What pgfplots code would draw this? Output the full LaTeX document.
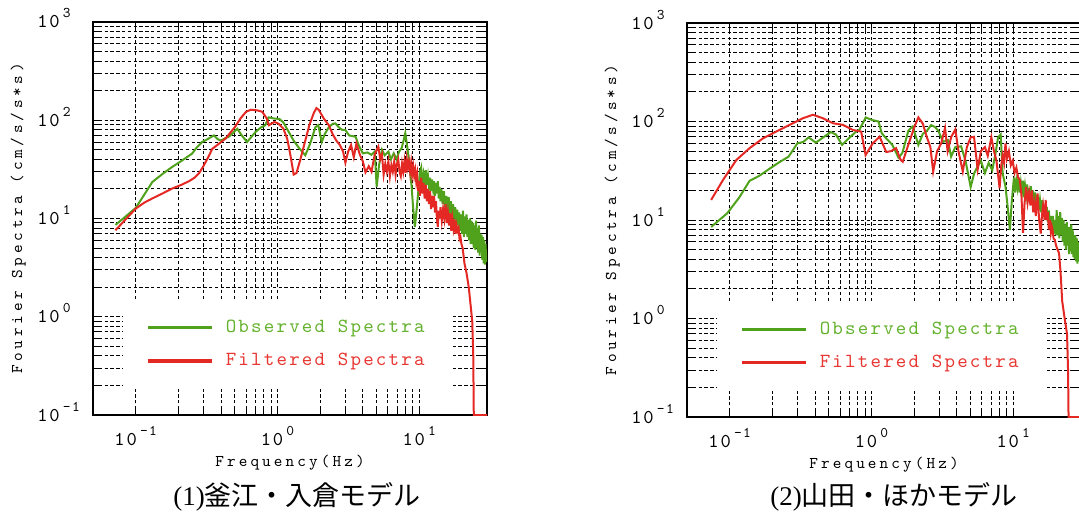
\documentclass[border=0pt]{standalone}
\usepackage{fontspec}
\usepackage{pgfplots}
\pgfplotsset{compat=1.18}
\setmainfont{Liberation Serif}
\newfontfamily\cjk{Noto Sans CJK JP}
\newfontfamily\monoT[LetterSpace=9]{lmmono10-regular.otf}
\newfontfamily\monoA[LetterSpace=19]{lmmono10-regular.otf}
\newfontfamily\monoY[LetterSpace=23]{lmmono10-regular.otf}
\newfontfamily\monoL[LetterSpace=11]{lmmono10-regular.otf}
\definecolor{obsline}{RGB}{80,162,28}
\definecolor{obstext}{RGB}{100,178,45}
\definecolor{filline}{RGB}{228,40,36}
\definecolor{filtext}{RGB}{232,55,50}
\newcommand\ticklab[1]{\mbox{\fontsize{9.8pt}{10pt}\monoT 10\kern1.6pt\raisebox{5pt}{\fontsize{7.4pt}{8pt}\monoT #1}}}

\pgfplotstableread{
f a
0.072 8.6
0.085 10.5
0.1 12.8
0.115 17.5
0.131 23.5
0.155 28.5
0.181 33.5
0.21 38.5
0.25 45.8
0.27 53
0.294 60
0.32 64
0.356 70
0.38 64
0.40 62
0.43 66
0.454 68
0.49 75
0.52 82
0.56 70
0.61 60
0.65 67
0.70 76
0.76 84
0.82 89
0.865 107
0.95 104
1.03 103
1.10 95
1.20 76
1.30 62
1.42 52
1.57 44
1.70 58
1.85 85
1.94 89
2.05 60
2.15 72
2.30 85
2.45 92
2.56 93
2.70 85
2.85 80
3.0 80
3.2 70
3.55 68
3.75 55
4.0 46
4.3 47
4.6 44.5
4.85 48
5.0 21
5.2 35
5.45 50
5.7 44
6.05 48
6.3 40
6.6 46
6.9 40
7.2 48
7.5 52
7.8 65
7.96 74
8.2 55
8.4 42
8.8 22
9.0 14
9.3 8.2
9.6 13
9.9 21
10.1 30
10.3 33
10.5 22
10.7 28
10.9 23
11.1 31
11.3 22
11.5 27
11.7 21
11.9 26
12.1 19
12.3 25
12.5 20
12.7 24
12.9 17
13.1 23
13.3 18
13.5 24
13.7 16
13.9 21
14.1 15
14.3 20
14.6 14
14.9 19
15.2 13
15.5 17
15.8 12
16.1 16.6
16.4 11
16.7 15
17.0 10.4
17.3 14
17.6 10
17.9 13
18.2 9
18.5 12.3
18.8 8.5
19.1 11.5
19.4 7.5
19.7 11
20.0 7
20.3 12
20.6 6.5
20.9 10.5
21.2 7
21.5 11
21.8 6.5
22.1 9.7
22.4 6
22.7 10
23.0 5.5
23.3 9.5
23.6 5.5
23.9 9
24.2 5
24.5 8.5
24.8 4.8
25.1 9.5
25.4 5
25.7 8
26.0 4.5
26.3 8.5
26.6 4.2
26.9 7
27.2 4.5
27.5 6.8
27.8 3.8
28.1 6.5
28.4 3.5
28.7 6
29.0 3.4
29.3 5.5
29.6 3.6
30 4.5
}\LeftObs

\pgfplotstableread{
f a
0.072 7.6
0.085 9.8
0.1 12.6
0.115 14.5
0.131 16
0.155 18
0.181 20.2
0.21 22
0.238 24
0.26 26
0.28 29
0.30 34
0.33 44
0.346 51
0.40 60
0.43 65
0.50 85
0.55 105
0.60 122
0.65 128
0.72 126
0.78 122
0.84 104
0.87 89
0.95 96
1.02 92
1.10 82
1.17 65
1.23 45
1.30 28
1.36 29
1.45 40
1.55 58
1.68 90
1.80 118
1.88 133
1.95 128
2.12 104
2.30 89
2.45 72
2.6 62
2.75 56
2.9 48
3.01 37
3.15 48
3.3 56
3.45 42
3.6 58
3.8 45
4.0 38
4.17 29.5
4.4 34
4.6 30
4.85 45
5.14 54
5.3 40
5.45 45
5.6 28
5.75 36
5.9 30
6.05 38
6.2 27
6.35 35
6.5 30
6.65 38
6.8 28
6.95 36
7.1 40
7.25 30
7.4 27
7.55 36
7.7 30
7.85 38
8.0 29
8.15 40
8.3 33
8.45 38
8.6 30
8.75 37
8.9 28
9.05 34
9.2 27
9.35 31
9.5 24
9.65 28
9.8 19
9.95 24
10.1 17
10.3 26
10.5 18
10.7 23
10.9 16
11.1 22
11.3 15
11.5 20
11.7 14
11.9 19
12.1 12.5
12.3 17
12.5 13
12.7 17
12.9 11.5
13.1 15
13.3 10
13.5 8.2
13.7 12
13.9 10
14.1 13
14.4 9.5
14.7 12.5
15.0 10
15.3 14
15.6 9
15.9 11.5
16.2 8.5
16.5 11.3
16.8 7.5
17.1 10
17.4 8
17.7 9.8
18.0 7
18.3 8.5
18.6 7.5
18.9 8
19.2 6.2
19.5 6.5
19.8 5.5
20.2 5
20.8 3.5
21.5 2.8
22.3 2.0
23.0 1.3
23.6 0.9
24.0 0.4
24.2 0.1
30 0.1
}\LeftFil

\pgfplotstableread{
f a
0.074 8.5
0.096 11.7
0.117 17
0.138 25
0.161 28
0.19 33
0.22 38
0.26 44
0.30 60
0.33 62
0.36 69
0.405 61
0.45 68
0.515 78
0.56 74
0.62 58
0.68 66
0.77 78
0.82 82
0.91 110
1.0 104
1.12 100
1.18 76
1.25 69
1.40 58
1.55 43
1.65 48
1.82 81
1.95 89
2.14 58
2.30 75
2.45 80
2.63 92
2.8 88
2.95 81
3.2 62
3.45 65
3.64 44
3.9 55
4.28 56
4.6 40
5.0 21.6
5.3 30
5.6 35
5.9 40
6.3 30
6.7 38
7.1 32
7.5 48
7.8 69
8.14 74
8.4 30
8.8 21.8
9.1 14
9.45 7.9
9.7 14
9.9 20
10.1 27
10.3 19
10.5 25
10.7 21
10.9 27
11.1 19
11.3 24
11.5 20
11.7 25
11.9 17
12.1 22
12.3 18
12.5 23
12.7 16
12.9 21
13.1 17
13.3 22
13.5 15
13.7 20
13.9 14
14.2 19
14.5 13.5
14.8 18
15.1 12.6
15.4 16
15.7 12
16.0 16
16.3 11
16.6 14
16.9 10.5
17.2 13.5
17.5 9.5
17.8 12.5
18.1 9
18.4 11
18.7 8
19.0 11
19.3 7.3
19.6 10
19.9 7
20.2 12.6
20.5 7
20.8 11
21.1 6.5
21.4 12
21.7 7
22.0 10.5
22.3 6
22.6 10
22.9 5.5
23.2 9
23.5 5
23.8 9.5
24.1 5.5
24.4 8.5
24.7 4.5
25.0 8.5
25.3 4.8
25.6 9
25.9 4.5
26.2 8
26.5 4.2
26.8 7
27.1 4
27.4 7
27.7 3.8
28.0 6.5
28.3 3.6
28.6 6
28.9 3.8
29.2 5.5
29.5 4
30 5
}\RightObs

\pgfplotstableread{
f a
0.074 16
0.0897 25.5
0.1114 40.7
0.138 53.6
0.172 67.6
0.213 79
0.265 92.5
0.328 108
0.386 117
0.454 108
0.535 96
0.628 92.5
0.74 82
0.845 79
0.908 45.6
0.96 52
1.02 60
1.14 70
1.27 49
1.37 50
1.49 53.6
1.60 41
1.66 39
1.80 55.7
2.01 89
2.14 110
2.30 95
2.45 70
2.60 55
2.72 31
2.9 50
3.1 60
3.3 86
3.44 50
3.65 70
3.9 83
4.1 50
4.4 31
4.7 55
5.0 69
5.28 70
5.6 32.6
5.9 50
6.3 55
6.6 45
7.0 69
7.3 50
7.6 40
8.0 21
8.2 35
8.4 45
8.6 38
8.8 60
9.0 42
9.3 50
9.6 36
9.9 40
10.2 30
10.5 34
10.8 27
11.1 25.5
11.4 18
11.7 7.4
12.0 15
12.3 21.6
12.6 15
12.9 19
13.2 14
13.5 20
13.8 12
14.1 15
14.4 11
14.8 18.6
15.2 10
15.6 7.3
15.9 11
16.2 14
16.6 10
16.9 16
17.2 10
17.5 12
17.8 8
18.1 10
18.4 7.4
18.7 8.5
18.9 7.9
19.2 6.5
19.6 6.3
20.0 5.5
20.5 5
21.0 4.6
21.5 3
22.1 1.5
23.0 1.0
23.9 0.7
24.3 0.3
24.5 0.1
30 0.1
}\RightFil

\pgfplotsset{
  every axis/.append style={
    scale only axis,
    width=197pt, height=196.5pt,
    xmin=0.05, xmax=30, ymin=0.1, ymax=1000,
    xticklabel style={anchor=base, inner sep=0pt, yshift=-15pt},
    yticklabel style={anchor=base west, inner sep=0pt, xshift=-28pt, yshift=-3pt},
    grid=both,
    major grid style={black, line width=0.5pt, dash pattern=on 1.7pt off 1.2pt},
    minor grid style={black, line width=0.5pt, dash pattern=on 1.7pt off 1.2pt},
    axis line style={black, line width=0.8pt},
    tick align=inside, major tick length=4pt, minor tick length=4pt,
    every tick/.style={black, line width=0.5pt, solid},
    every axis x label/.style={at={(axis description cs:0.5,-0.122)}, anchor=center},
    every axis y label/.style={at={(axis description cs:-0.19,0.5)}, anchor=center, rotate=90},
    legend style={at={(0.074,0.066)}, anchor=south west, draw=none, fill=white,
      inner xsep=12pt, inner ysep=8pt, row sep=5pt, column sep=4pt,
      font=\fontsize{10pt}{10pt}\monoL},
    legend cell align=left,
  },
  legend image code/.code={\draw[#1, line width=1.6pt] (0pt,0pt) -- (32pt,0pt);},
}

\begin{document}
\begin{tikzpicture}
\useasboundingbox (0,0) rectangle (539.5pt,256.5pt);
\begin{loglogaxis}[at={(46.5pt,49pt)}, anchor=south west,
  xtick={0.1,1,10}, ytick={0.1,1,10,100,1000},
  xticklabels={\ticklab{-1},\ticklab{0},\ticklab{1}},
  yticklabels={\ticklab{-1},\ticklab{0},\ticklab{1},\ticklab{2},\ticklab{3}},
  xlabel={\fontsize{8.2pt}{9pt}\monoA Frequency(Hz)},
  ylabel={\fontsize{8.2pt}{9pt}\monoY Fourier Spectra (cm/s/s*s)}]
\addplot[obsline, line width=1pt] table[x=f, y=a] {\LeftObs};
\addlegendentry{\textcolor{obstext}{Observed Spectra}}
\addplot[filline, line width=1pt] table[x=f, y=a] {\LeftFil};
\addlegendentry{\textcolor{filtext}{Filtered Spectra}}
\end{loglogaxis}
\begin{loglogaxis}[at={(343.5pt,48pt)}, anchor=south west, height=197pt,
  xtick={0.1,1,10}, ytick={0.1,1,10,100,1000},
  xticklabels={\ticklab{-1},\ticklab{0},\ticklab{1}},
  yticklabels={\ticklab{-1},\ticklab{0},\ticklab{1},\ticklab{2},\ticklab{3}},
  xlabel={\fontsize{8.2pt}{9pt}\monoA Frequency(Hz)},
  ylabel={\fontsize{8.2pt}{9pt}\monoY Fourier Spectra (cm/s/s*s)}]
\addplot[obsline, line width=1pt] table[x=f, y=a] {\RightObs};
\addlegendentry{\textcolor{obstext}{Observed Spectra}}
\addplot[filline, line width=1pt] table[x=f, y=a] {\RightFil};
\addlegendentry{\textcolor{filtext}{Filtered Spectra}}
\end{loglogaxis}
\node[anchor=center, font=\fontsize{13.5pt}{15pt}\selectfont] at (148.5pt,8pt) {(1)\cjk 釜江・入倉モデル};
\node[anchor=center, font=\fontsize{13.5pt}{15pt}\selectfont] at (447pt,8pt) {(2)\cjk 山田・ほかモデル};
\end{tikzpicture}
\end{document}
